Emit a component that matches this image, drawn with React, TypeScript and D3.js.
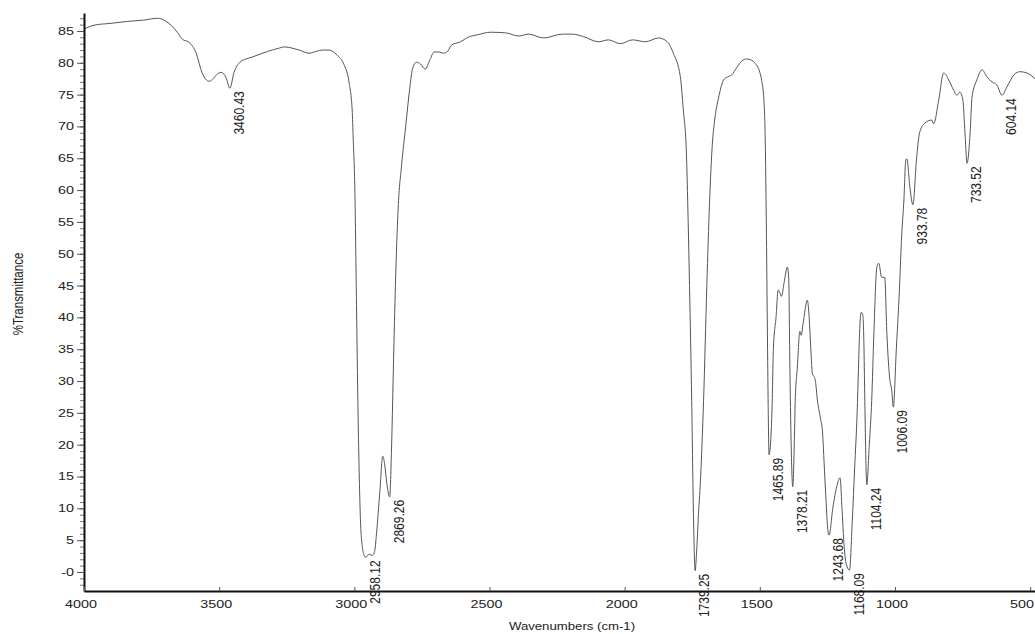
import React, { useRef, useEffect } from 'react';
import * as d3 from 'd3';

// spectrum (wavenumber in cm-1, %T)
const wavenumbers = [
  4000, 3963, 3900, 3840, 3780, 3727, 3700, 3678, 3655, 3636, 3611, 3585, 3563, 3537, 3520, 3505, 3492, 3474,
  3460.43, 3445, 3423, 3400, 3378, 3320, 3278, 3259, 3230, 3204, 3167, 3140, 3119, 3093, 3064, 3038, 3019, 3008,
  3004, 2998, 2992, 2985, 2978, 2970, 2962, 2958.12, 2945, 2935, 2925, 2918, 2905, 2895, 2888, 2880, 2869.26,
  2862, 2855, 2848, 2838, 2825, 2810, 2795, 2785, 2770, 2755, 2738, 2720, 2705, 2688, 2670, 2655, 2640, 2607,
  2580, 2544, 2496, 2440, 2392, 2356, 2300, 2230, 2193, 2152, 2097, 2060, 2016, 1971, 1923, 1875, 1842, 1820,
  1794, 1783, 1772, 1765, 1760, 1752, 1745, 1739.25, 1734, 1727, 1720, 1708, 1696, 1686, 1676, 1667, 1652,
  1634, 1618, 1604, 1586, 1566, 1549, 1530, 1519, 1500, 1493, 1485, 1480, 1476, 1472, 1469, 1465.89, 1458,
  1454, 1450, 1440, 1432, 1425, 1420, 1410, 1398, 1393, 1389, 1384, 1378.21, 1372, 1369, 1361, 1352, 1347,
  1340, 1324, 1319, 1310, 1306, 1295, 1287, 1275, 1268, 1262, 1256, 1248, 1243.68, 1230, 1215, 1203, 1196,
  1188, 1180, 1168.09, 1158, 1149, 1140, 1135, 1131, 1125, 1119, 1115, 1112, 1104.24, 1095, 1086, 1078, 1067,
  1060, 1049, 1038, 1030, 1019, 1012, 1006.09, 995, 985, 975, 967, 960, 956, 945, 933.78, 920, 909, 890, 864,
  857, 838, 820, 801, 783, 771, 760, 749, 741, 733.52, 722, 715, 697, 678, 660, 641, 623, 604.14, 586, 560,
  538, 512, 482,
];

const transmittance = [
  85.3, 85.9, 86.2, 86.5, 86.7, 87.0, 86.6, 85.9, 84.8, 83.7, 83.2, 81.5, 78.4, 77.1, 77.6, 78.3, 78.5, 77.6,
  76.0, 78.5, 80.1, 80.6, 80.9, 81.8, 82.3, 82.5, 82.3, 82.0, 81.5, 81.8, 82.0, 82.0, 81.2, 79.7, 76.8, 72.6,
  67.9, 60, 42, 22, 9, 3.8, 2.5, 2.3, 2.8, 2.6, 3.2, 6, 13, 18.2, 17, 14, 11.8,
  20, 33, 45, 57, 64, 70, 76, 79, 80.1, 79.8, 79.0, 80.5, 81.7, 81.7, 81.5, 81.8, 82.8, 83.3,
  84.0, 84.4, 84.8, 84.7, 84.2, 84.5, 83.9, 84.5, 84.5, 84.1, 83.3, 83.6, 83.0, 83.6, 83.3, 83.9, 83.3, 81.5,
  77.8, 72.6, 66.3, 55, 45, 27, 8, 0.2, 3, 9, 14, 27, 45, 58, 67, 71, 74.6,
  77.3, 77.8, 78.1, 79.2, 80.3, 80.6, 80.4, 80.0, 78.5, 77.2, 74.2, 68, 55, 38, 26, 18.4, 22,
  27, 34.9, 40, 44.3, 43.8, 43.3, 45.5, 47.9, 46, 33, 20, 13.4, 21, 27, 32.2, 37.8, 37.2,
  39, 42.7, 41, 34, 31.3, 30.2, 27, 24, 22, 17, 12, 6.5, 5.8, 10, 13.5, 14.8, 10,
  4, 1.2, 0.3, 8, 16.5, 25, 32, 37.5, 40.8, 40.4, 36, 28, 13.7, 20, 27, 37.5, 47.9,
  48.5, 46.3, 46.3, 37.5, 30.2, 28.6, 25.9, 35, 43, 53, 58.4, 64.7, 64.9, 60.5, 57.7, 65, 69, 70.5, 71.0,
  70.4, 74.2, 78.4, 77.3, 75.7, 74.9, 75.4, 74.2, 69, 64.2, 69, 74.6, 77.3, 78.9, 77.8, 77, 76.5, 74.9, 76.2, 78.1,
  78.6, 78.4, 77.5,
];

const peakLabels = [
  '3460.43', '2958.12', '2869.26', '1739.25', '1465.89', '1378.21', '1243.68',
  '1168.09', '1104.24', '1006.09', '933.78', '733.52', '604.14',
];

const xTicks = [4000, 3500, 3000, 2500, 2000, 1500, 1000, 500];
const yTicks = [85, 80, 75, 70, 65, 60, 55, 50, 45, 40, 35, 30, 25, 20, 15, 10, 5, 0];

const App = () => {
  const svgRef = useRef<SVGSVGElement>(null);

  useEffect(() => {
    const width = 1035;
    const left = 84;
    const right = 1035;
    const top = 13;
    const bottom = 591;
    const font = 'Liberation Sans, Arial, sans-serif';
    const stretch = 1.25; // the scan is a little wider than tall

    const svg = d3.select(svgRef.current);
    svg.selectAll('*').remove();

    const x = d3.scaleLinear().domain([4000, 482]).range([left, right]);
    const y = d3.scaleLinear().domain([-2.985, 87.82]).range([bottom, top]);

    // curve
    const line = d3
      .line<number>()
      .x((d, i) => x(wavenumbers[i]))
      .y((d) => y(d))
      .curve(d3.curveMonotoneX);

    svg
      .append('path')
      .datum(transmittance)
      .attr('d', line)
      .attr('fill', 'none')
      .attr('stroke', '#555')
      .attr('stroke-width', 1);

    // peak labels
    svg
      .selectAll('.peak')
      .data(peakLabels)
      .join('text')
      .attr('class', 'peak')
      .attr('transform', (s) => {
        const wn = +s;
        const i = wavenumbers.indexOf(wn);
        return `translate(${x(wn) + 9},${y(transmittance[i]) + 3}) scale(${stretch},1) rotate(-90)`;
      })
      .attr('text-anchor', 'end')
      .attr('dominant-baseline', 'central')
      .attr('font-family', font)
      .attr('font-size', 12)
      .attr('fill', '#222')
      .text((s) => s);

    // y axis: minor then major ticks
    const yMinor = svg
      .append('g')
      .attr('transform', `translate(${left},0)`)
      .call(d3.axisLeft(y).tickValues(d3.range(-2, 88, 1)).tickSize(4).tickFormat(() => ''));
    yMinor.select('.domain').remove();
    yMinor.selectAll('line').attr('stroke', '#777');

    const yAxis = svg
      .append('g')
      .attr('transform', `translate(${left},0)`)
      .call(d3.axisLeft(y).tickValues(yTicks).tickSizeInner(7).tickSizeOuter(0).tickFormat(() => ''));
    yAxis.select('.domain').attr('stroke', '#111').attr('stroke-width', 2);
    yAxis.selectAll('line').attr('stroke', '#555');

    svg
      .selectAll('.ylab')
      .data(yTicks)
      .join('text')
      .attr('class', 'ylab')
      .attr('transform', (t) => `translate(${left - 10},${y(t)}) scale(${stretch},1)`)
      .attr('text-anchor', 'end')
      .attr('dominant-baseline', 'central')
      .attr('font-family', font)
      .attr('font-size', 11.5)
      .attr('fill', '#222')
      .text((t) => (t === 0 ? '-0' : String(t)));

    // x axis
    const xAxis = svg
      .append('g')
      .attr('transform', `translate(0,${bottom})`)
      .call(d3.axisBottom(x).tickValues(xTicks).tickSizeInner(-4).tickSizeOuter(0).tickFormat(() => ''));
    xAxis.select('.domain').attr('stroke', '#111').attr('stroke-width', 2);
    xAxis.selectAll('line').attr('stroke', '#555');

    // the last label sits against the right edge of the scan
    svg
      .selectAll('.xlab')
      .data(xTicks)
      .join('text')
      .attr('class', 'xlab')
      .attr('transform', (t) => {
        const px = Math.min(x(t) - 3, width - 13);
        return `translate(${px},${bottom + 17}) scale(${stretch},1)`;
      })
      .attr('text-anchor', 'middle')
      .attr('font-family', font)
      .attr('font-size', 11.5)
      .attr('fill', '#222')
      .text((t) => String(t));

    // titles
    svg
      .append('text')
      .attr('transform', `translate(572,630) scale(1.2,1)`)
      .attr('text-anchor', 'middle')
      .attr('font-family', font)
      .attr('font-size', 11)
      .attr('fill', '#222')
      .text('Wavenumbers (cm-1)');

    svg
      .append('text')
      .attr('transform', `translate(18,294) scale(${stretch},1) rotate(-90)`)
      .attr('text-anchor', 'middle')
      .attr('dominant-baseline', 'central')
      .attr('font-family', font)
      .attr('font-size', 11.5)
      .attr('fill', '#222')
      .text('%Transmittance');
  }, []);

  return (
    <svg
      ref={svgRef}
      width={1035}
      height={634}
      style={{ position: 'absolute', left: 0, top: 0, background: '#fff' }}
    />
  );
};

export default App;
